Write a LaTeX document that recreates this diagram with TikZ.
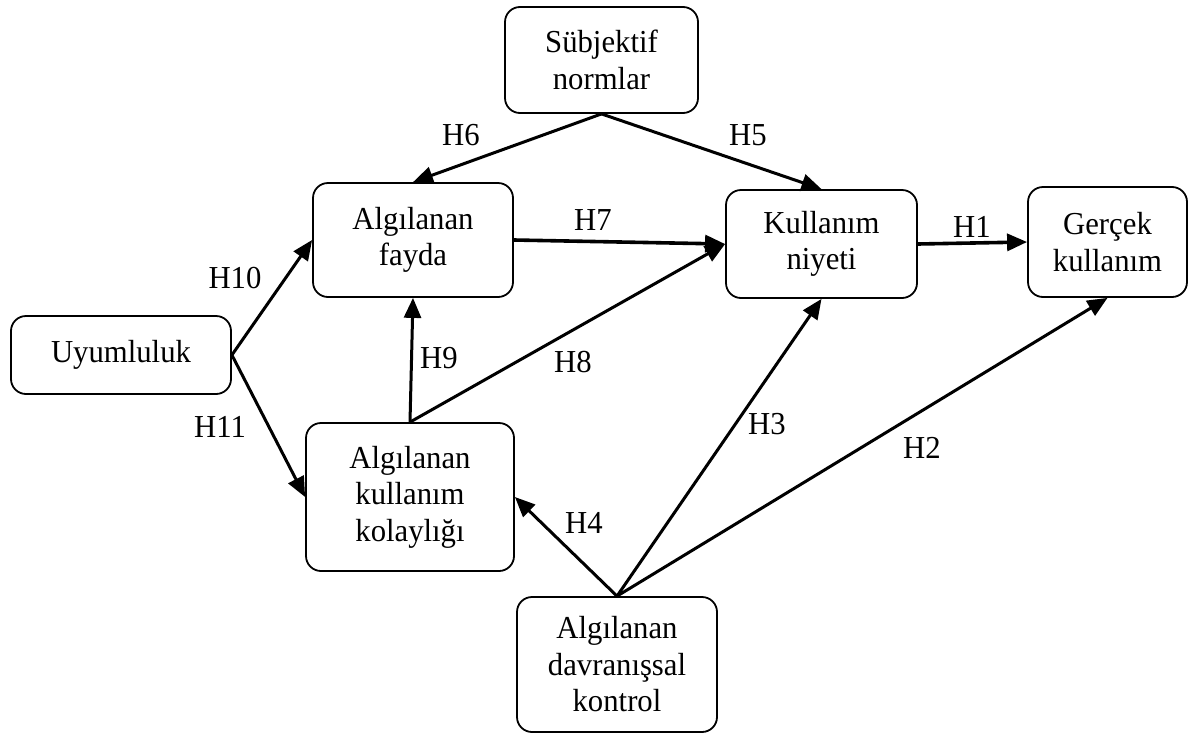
\documentclass[tikz,border=0pt]{standalone}
\usepackage{fontspec}
\setmainfont[FakeStretch=0.96]{Liberation Serif}
\usetikzlibrary{arrows.meta}
\begin{document}
\begin{tikzpicture}[x=1pt,y=-1pt,
  box/.style={draw,line width=1.8pt,rounded corners=15pt,align=center,inner sep=0pt,
    font=\fontsize{32}{36.5}\selectfont},
  conn/.style={line width=3pt,-{Triangle[length=20pt,width=17pt]}},
  lbl/.style={font=\fontsize{32}{36}\selectfont,inner sep=0pt}]
\useasboundingbox (0,0) rectangle (1188,734);
\node[box,minimum width=193pt,minimum height=106pt] (sn) at (601.5,60) {Sübjektif\\normlar};
\node[box,minimum width=200pt,minimum height=114pt] (af) at (413,240) {Algılanan\\fayda};
\node[box,minimum width=191pt,minimum height=108pt] (kn) at (821.5,244) {Kullanım\\niyeti};
\node[box,minimum width=159pt,minimum height=110pt] (gk) at (1107.5,242) {Gerçek\\kullanım};
\node[box,minimum width=220pt,minimum height=78pt] (uy) at (121,355) {Uyumluluk};
\node[box,minimum width=208pt,minimum height=148pt] (ak) at (410,497) {Algılanan\\kullanım\\kolaylığı};
\node[box,minimum width=200pt,minimum height=135pt] (ad) at (617,664.5) {Algılanan\\davranışsal\\kontrol};

\draw[conn] (sn.south) -- (af.north);
\draw[conn] (sn.south) -- (kn.north);
\draw[conn,line width=3.6pt] (af.east) -- (kn.west);
\draw[conn,line width=3.6pt] (kn.east) -- (gk.west);
\draw[conn] (uy.east) -- (af.west);
\draw[conn] (uy.east) -- (ak.west);
\draw[conn] (ak.north) -- (af.south);
\draw[conn] (ak.north) -- (kn.west);
\draw[conn] (ad.north) -- (kn.south);
\draw[conn] (ad.north) -- (gk.south);
\draw[conn] (ad.north) -- (ak.east);

\node[lbl] (l6) at (461,135) {H6};
\node[lbl] (l5) at (748,135) {H5};
\node[lbl] (l7) at (593,220) {H7};
\node[lbl] (l1) at (972,227) {H1};
\node[lbl] (l10) at (235,278) {H10};
\node[lbl] (l9) at (439,358) {H9};
\node[lbl] (l8) at (573,362) {H8};
\node[lbl] (l11) at (220,427) {H11};
\node[lbl] (l3) at (767,424) {H3};
\node[lbl] (l2) at (922,448) {H2};
\node[lbl] (l4) at (584,523) {H4};
\end{tikzpicture}
\end{document}
